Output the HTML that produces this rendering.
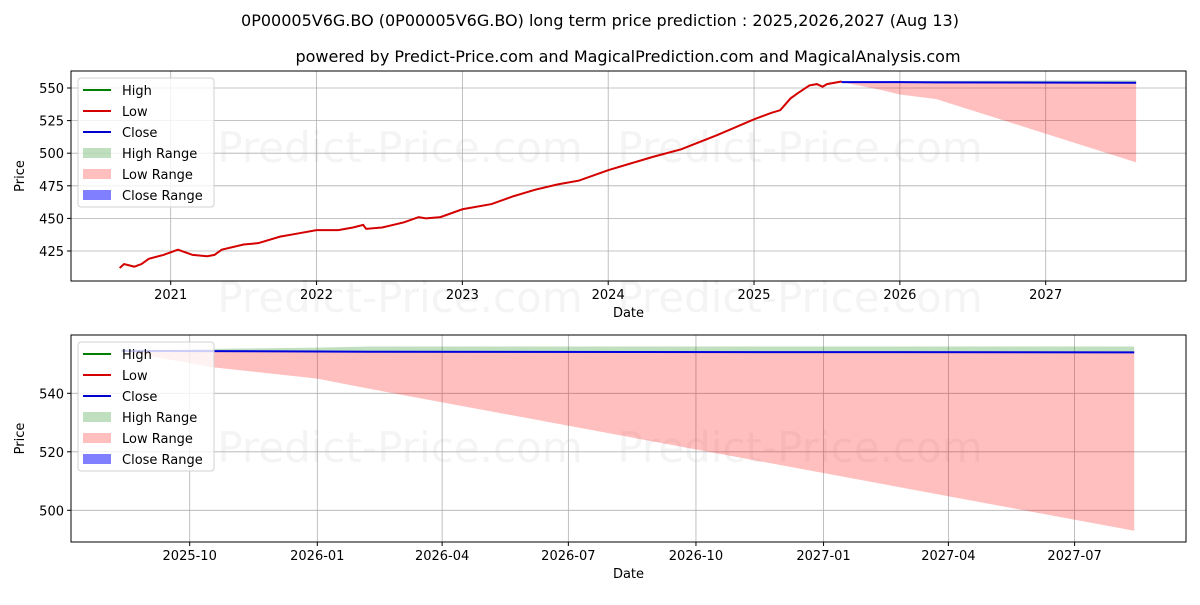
<!DOCTYPE html>
<html><head><meta charset="utf-8"><style>
body{margin:0;background:#fff;font-family:"Liberation Sans","DejaVu Sans",sans-serif}
svg text{font-family:"DejaVu Sans","Liberation Sans",sans-serif}
</style></head><body>
<svg id="c" width="1200" height="600" xmlns="http://www.w3.org/2000/svg"></svg>
<script>
// top chart data (year, price)
const histYears=[2020.65,2020.68,2020.75,2020.8,2020.85,2020.95,2021.0,2021.05,2021.1,2021.15,2021.25,2021.3,2021.35,2021.5,2021.6,2021.75,2021.85,2022.0,2022.15,2022.25,2022.32,2022.34,2022.45,2022.6,2022.7,2022.75,2022.85,2023.0,2023.2,2023.35,2023.5,2023.65,2023.8,2024.0,2024.15,2024.3,2024.5,2024.75,2025.0,2025.12,2025.18,2025.25,2025.3,2025.38,2025.43,2025.47,2025.5,2025.6];
const histLow=[412,415,413,415,419,422,424,426,424,422,421,422,426,430,431,436,438,441,441,443,445,442,443,447,451,450,451,457,461,467,472,476,479,487,492,497,503,514,526,531,533,542,546,552,553,551,553,555];
const predYears=[2025.6,2025.85,2026.0,2026.25,2027.62];
const predClose=[554.5,554.5,554.5,554.3,554.0];
const predHigh=[554.5,555,555.3,555.5,555.8];
const predLow=[554.5,549,545,541.5,493];
const topTicksX=[2021,2022,2023,2024,2025,2026,2027];
const topTicksY=[425,450,475,500,525,550];
// bottom chart data (days since 2025-10-01)
const botDays=[-49,15,92,130,681];
const botClose=[554.5,554.4,554.3,554.2,554.0];
const botHigh=[554.5,555.2,555.6,556,556];
const botLow=[554.5,549,545,541.5,493];
const botTickDays=[0,92,182,273,365,457,547,638];
const botTickLabels=["2025-10","2026-01","2026-04","2026-07","2026-10","2027-01","2027-04","2027-07"];
const botTicksY=[500,520,540];

const S=document.getElementById('c');const NS='http://www.w3.org/2000/svg';
function el(t,a,p){const e=document.createElementNS(NS,t);for(const k in a)e.setAttribute(k,a[k]);(p||S).appendChild(e);return e;}
function txt(x,y,s,a,p){const e=el('text',Object.assign({x:x,y:y,'font-size':13,fill:'#000'},a||{}),p);e.textContent=s;return e;}

const t1=txt(600,26,"0P00005V6G.BO (0P00005V6G.BO) long term price prediction : 2025,2026,2027 (Aug 13)",{'text-anchor':'middle','font-size':16});


const t2=txt(628,62,"powered by Predict-Price.com and MagicalPrediction.com and MagicalAnalysis.com",{'text-anchor':'middle','font-size':16});



function panel(o){
 const g=el('g',{});
 
 
 const X=v=>o.pxa+(v-o.xa)/(o.xb-o.xa)*(o.pxb-o.pxa);
 const Y=v=>o.pya+(v-o.ya)/(o.yb-o.ya)*(o.pyb-o.pya);
 o.wm.forEach(w=>{const e=txt(w[0],w[1],"Predict-Price.com",{'text-anchor':'middle','font-size':42,fill:'#000','fill-opacity':0.045},g);
  
  });
 o.xt.forEach((v,i)=>{const x=X(v);el('line',{x1:x,x2:x,y1:o.y0,y2:o.y1,stroke:'#b0b0b0','stroke-width':0.8},g);el('line',{x1:x,x2:x,y1:o.y1,y2:o.y1+4,stroke:'#000'},g);
  const e=txt(x,o.y1+18,o.xl[i],{'text-anchor':'middle'},g);
  
  });
 o.yt.forEach(v=>{const y=Y(v);el('line',{x1:o.x0,x2:o.x1,y1:y,y2:y,stroke:'#b0b0b0','stroke-width':0.8},g);el('line',{x1:o.x0-4,x2:o.x0,y1:y,y2:y,stroke:'#000'},g);
  const e=txt(o.x0-7,y+5,String(v),{'text-anchor':'end'},g);
  
  });
 const area=(xs,a,b,fill,op,name)=>{let d='M'+xs.map((v,i)=>X(v)+','+Y(a[i])).join('L');for(let i=xs.length-1;i>=0;i--)d+='L'+X(xs[i])+','+Y(b[i]);const p=el('path',{d:d+'Z',fill:fill,'fill-opacity':op},g);
  
  };
 const line=(xs,ys,c,name,w)=>{const p=el('path',{d:'M'+xs.map((v,i)=>X(v)+','+Y(ys[i])).join('L'),fill:'none',stroke:c,'stroke-width':w||2},g);
  
  };
 area(o.px,o.pc,o.ph,'#008000',0.25,'high-range-area');
 area(o.px,o.pl,o.pc,'#ff0000',0.25,'low-range-area');
 if(o.hx)line(o.hx,o.hl,'#d40000','low-history-line');
 line(o.px,o.pc,'#0000dd','close-line');
 el('rect',{x:o.x0,y:o.y0,width:o.x1-o.x0,height:o.y1-o.y0,fill:'none',stroke:'#000','stroke-width':1},g);
 const yl=txt(0,0,'Price',{'text-anchor':'middle',transform:`translate(${o.x0-47},${(o.y0+o.y1)/2}) rotate(-90)`},g);
 
 
 const xl=txt((o.x0+o.x1)/2,o.y1+36,'Date',{'text-anchor':'middle'},g);
 
 
 const lg=el('g',{},g);
 
 
 const lx=o.x0+7,ly=o.y0+7;
 el('rect',{x:lx,y:ly,width:136,height:129,rx:3,fill:'#fff','fill-opacity':0.8,stroke:'#d0d0d0'},lg);
 const items=[['High','#008000','l'],['Low','#d40000','l'],['Close','#0000cc','l'],['High Range','#008000','a'],['Low Range','#ff0000','a'],['Close Range','#0000ff','a']];
 items.forEach((it,i)=>{const yy=ly+12+i*21;const ge=el('g',{},lg);
  
  
  if(it[2]=='l')el('line',{x1:lx+5,x2:lx+33,y1:yy,y2:yy,stroke:it[1],'stroke-width':2},ge);
  else el('rect',{x:lx+5,y:yy-5,width:28,height:10,fill:it[1],'fill-opacity':it[0]=='Close Range'?0.5:0.25},ge);
  txt(lx+44,yy+5,it[0],{},ge);});
}
panel({name:'long-term-panel',x0:71,x1:1186,y0:71,y1:281,
 xa:2021,xb:2027,pxa:170.7,pxb:1045.7,ya:425,yb:550,pya:251,pyb:88,
 xt:topTicksX,xl:topTicksX.map(String),yt:topTicksY,
 hx:histYears,hl:histLow,px:predYears,pc:predClose,ph:predHigh,pl:predLow,
 wm:[[400,162],[800,162],[400,312],[800,312]]});
panel({name:'forecast-panel',x0:71,x1:1186,y0:335,y1:542,
 xa:0,xb:638,pxa:189.7,pxb:1074.6,ya:500,yb:540,pya:510.3,pyb:393.3,
 xt:botTickDays,xl:botTickLabels,yt:botTicksY,
 px:botDays,pc:botClose,ph:botHigh,pl:botLow,
 wm:[[400,462],[800,462]]});
</script>
</body></html>
